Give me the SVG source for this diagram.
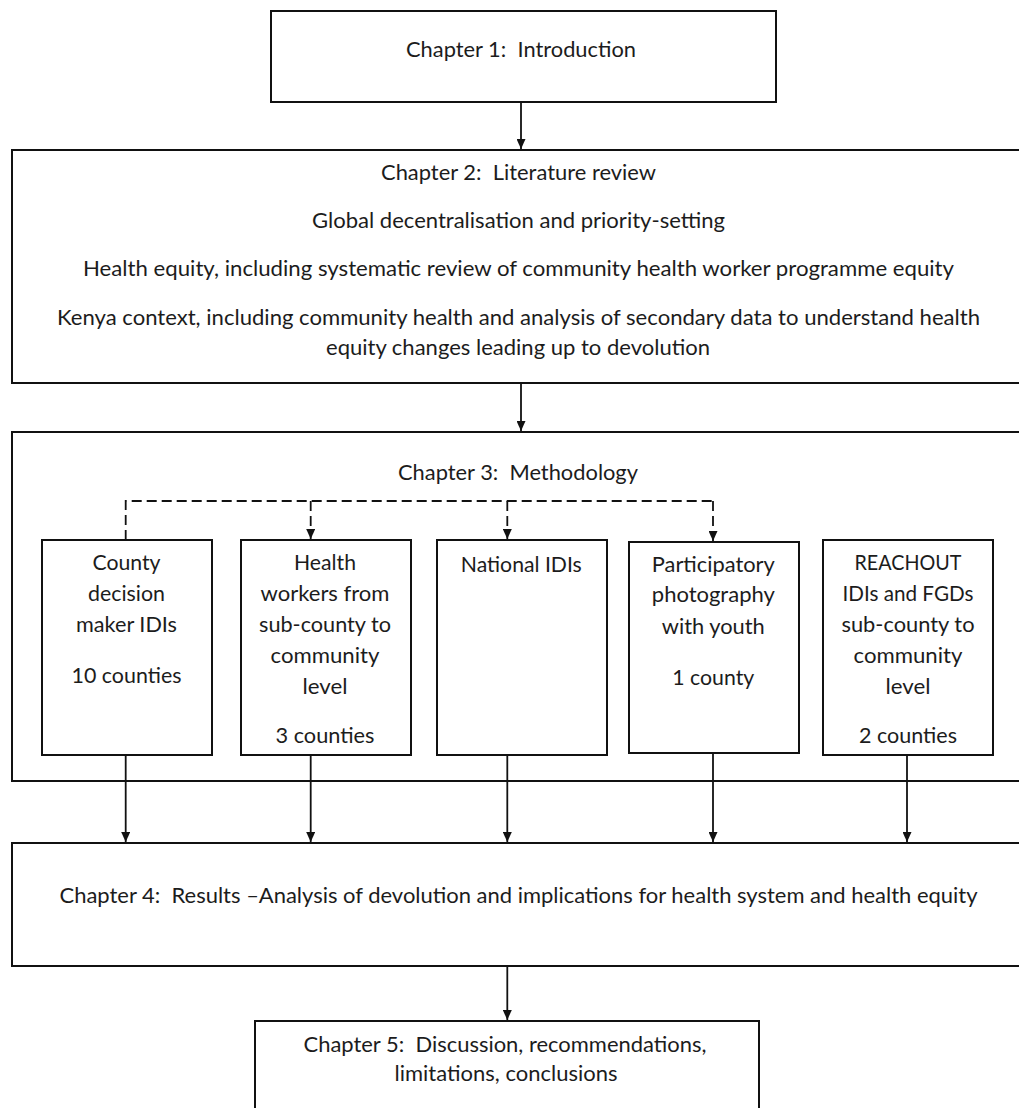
<svg xmlns="http://www.w3.org/2000/svg" width="1019" height="1108" viewBox="0 0 1019 1108">
  <style>
    .box { fill: #ffffff; stroke: #111111; stroke-width: 2; }
    .t { font-family: Lato, "Open Sans", "Liberation Sans", sans-serif; font-size: 21px; fill: #1c1c1c; text-anchor: middle; white-space: pre; }
    .link { fill: none; stroke: #111111; stroke-width: 1.8; }
    .dash { fill: none; stroke: #111111; stroke-width: 1.8; stroke-dasharray: 10 5; }
  </style>
  <defs>
    <marker id="head" markerUnits="userSpaceOnUse" markerWidth="10" markerHeight="9" refX="10" refY="4.5" orient="auto">
      <path d="M0,0 L10,4.5 L0,9 Z" fill="#111111"/>
    </marker>
  </defs>

  <rect width="1019" height="1108" fill="#ffffff"/>

  <!-- Chapter 1 -->
  <g id="chapter1">
    <rect class="box" x="271" y="11" width="505" height="91"/>
    <text class="t" x="521" y="57" textLength="230" lengthAdjust="spacingAndGlyphs" xml:space="preserve">Chapter 1:  Introduction</text>
  </g>

  <!-- Chapter 2 -->
  <g id="chapter2">
    <rect class="box" x="12" y="150" width="1020" height="233"/>
    <text class="t" x="518.5" y="180" textLength="275" lengthAdjust="spacingAndGlyphs" xml:space="preserve">Chapter 2:  Literature review</text>
    <text class="t" x="518.5" y="228" textLength="413" lengthAdjust="spacingAndGlyphs">Global decentralisation and priority-setting</text>
    <text class="t" x="518.5" y="276" textLength="871" lengthAdjust="spacingAndGlyphs">Health equity, including systematic review of community health worker programme equity</text>
    <text class="t" x="518.5" y="325" textLength="923" lengthAdjust="spacingAndGlyphs">Kenya context, including community health and analysis of secondary data to understand health</text>
    <text class="t" x="518" y="355" textLength="384" lengthAdjust="spacingAndGlyphs">equity changes leading up to devolution</text>
  </g>

  <!-- Chapter 3 -->
  <g id="chapter3">
    <rect class="box" x="12" y="432" width="1020" height="349"/>
    <text class="t" x="518" y="480" textLength="240" lengthAdjust="spacingAndGlyphs" xml:space="preserve">Chapter 3:  Methodology</text>
  </g>

  <g id="county-idis">
    <rect class="box" x="42" y="540" width="170" height="215"/>
    <text class="t" x="126.5" y="570" textLength="68" lengthAdjust="spacingAndGlyphs">County</text>
    <text class="t" x="126.5" y="601" textLength="77" lengthAdjust="spacingAndGlyphs">decision</text>
    <text class="t" x="126.5" y="632" textLength="101" lengthAdjust="spacingAndGlyphs">maker IDIs</text>
    <text class="t" x="126.5" y="683" textLength="110" lengthAdjust="spacingAndGlyphs">10 counties</text>
  </g>

  <g id="health-workers">
    <rect class="box" x="241" y="540" width="170" height="215"/>
    <text class="t" x="325" y="570" textLength="62" lengthAdjust="spacingAndGlyphs">Health</text>
    <text class="t" x="325" y="601" textLength="129" lengthAdjust="spacingAndGlyphs">workers from</text>
    <text class="t" x="325" y="632" textLength="132" lengthAdjust="spacingAndGlyphs">sub-county to</text>
    <text class="t" x="325" y="663" textLength="109" lengthAdjust="spacingAndGlyphs">community</text>
    <text class="t" x="325" y="694" textLength="45" lengthAdjust="spacingAndGlyphs">level</text>
    <text class="t" x="325" y="743" textLength="99" lengthAdjust="spacingAndGlyphs">3 counties</text>
  </g>

  <g id="national-idis">
    <rect class="box" x="437" y="540" width="170" height="215"/>
    <text class="t" x="521.3" y="572" textLength="121" lengthAdjust="spacingAndGlyphs">National IDIs</text>
  </g>

  <g id="photography">
    <rect class="box" x="629" y="542" width="170" height="211"/>
    <text class="t" x="713.3" y="572" textLength="123" lengthAdjust="spacingAndGlyphs">Participatory</text>
    <text class="t" x="713.3" y="602" textLength="123" lengthAdjust="spacingAndGlyphs">photography</text>
    <text class="t" x="713.3" y="634" textLength="103" lengthAdjust="spacingAndGlyphs">with youth</text>
    <text class="t" x="713.3" y="685" textLength="82" lengthAdjust="spacingAndGlyphs">1 county</text>
  </g>

  <g id="reachout">
    <rect class="box" x="823" y="540" width="170" height="215"/>
    <text class="t" x="908" y="570" textLength="107" lengthAdjust="spacingAndGlyphs">REACHOUT</text>
    <text class="t" x="908" y="601" textLength="131" lengthAdjust="spacingAndGlyphs">IDIs and FGDs</text>
    <text class="t" x="908" y="632" textLength="133" lengthAdjust="spacingAndGlyphs">sub-county to</text>
    <text class="t" x="908" y="663" textLength="109" lengthAdjust="spacingAndGlyphs">community</text>
    <text class="t" x="908" y="694" textLength="45" lengthAdjust="spacingAndGlyphs">level</text>
    <text class="t" x="908" y="743" textLength="98" lengthAdjust="spacingAndGlyphs">2 counties</text>
  </g>

  <!-- Chapter 4 -->
  <g id="chapter4">
    <rect class="box" x="12" y="843" width="1020" height="123"/>
    <text class="t" x="518.5" y="903" textLength="918" lengthAdjust="spacingAndGlyphs" xml:space="preserve">Chapter 4:  Results –Analysis of devolution and implications for health system and health equity</text>
  </g>

  <!-- Chapter 5 -->
  <g id="chapter5">
    <rect class="box" x="255" y="1021" width="504" height="110"/>
    <text class="t" x="505" y="1052" textLength="403" lengthAdjust="spacingAndGlyphs" xml:space="preserve">Chapter 5:  Discussion, recommendations,</text>
    <text class="t" x="506" y="1081" textLength="223" lengthAdjust="spacingAndGlyphs">limitations, conclusions</text>
  </g>

  <!-- Connectors -->
  <g id="connectors">
    <path class="link" d="M521,102 V149" marker-end="url(#head)"/>
    <path class="link" d="M521,383 V431" marker-end="url(#head)"/>

    <path class="dash" d="M125.7,540 V501 H713"/>
    <path class="dash" d="M310.7,501 V539" marker-end="url(#head)"/>
    <path class="dash" d="M507.3,501 V539" marker-end="url(#head)"/>
    <path class="dash" d="M713,501 V541" marker-end="url(#head)"/>

    <path class="link" d="M125.7,755 V842" marker-end="url(#head)"/>
    <path class="link" d="M310.7,755 V842" marker-end="url(#head)"/>
    <path class="link" d="M507.3,755 V842" marker-end="url(#head)"/>
    <path class="link" d="M713,753 V842" marker-end="url(#head)"/>
    <path class="link" d="M907,755 V842" marker-end="url(#head)"/>

    <path class="link" d="M507.3,966 V1020" marker-end="url(#head)"/>
  </g>
</svg>
